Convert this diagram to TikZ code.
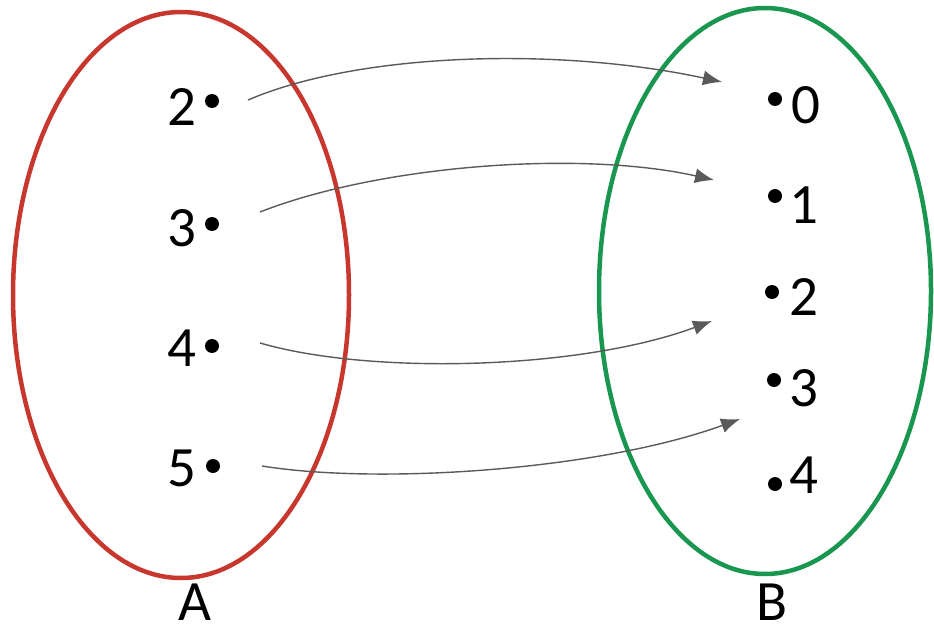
\documentclass[tikz,border=0pt]{standalone}
\usepackage{fontspec}
\setmainfont{Carlito}
\usetikzlibrary{arrows.meta}
\definecolor{setred}{RGB}{200,55,45}
\definecolor{setgreen}{RGB}{25,150,80}
\definecolor{arrowgray}{RGB}{90,90,90}
\tikzset{
  setoval/.style={line width=4.5pt},
  elem/.style={inner sep=0pt, font=\fontsize{57}{60}\selectfont},
  pt/.style={circle, fill=black, inner sep=0pt, minimum size=14pt},
  maparrow/.style={draw=arrowgray, line width=1.4pt, -{Latex[length=19pt,width=15pt]}}
}
\begin{document}
\begin{tikzpicture}[x=1pt,y=-1pt]
\useasboundingbox (0,0) rectangle (934,631);
% the two sets
\draw[setoval, setred] (181,295) ellipse [x radius=168, y radius=283];
\draw[setoval, setgreen] (765,291) ellipse [x radius=166, y radius=283];
\node[elem] (A) at (195,602) {A};
\node[elem] (B) at (772,602) {B};
% domain elements
\node[elem] (a2) at (182,107) {2};
\node[pt] (da2) at (212,101) {};
\node[elem] (a3) at (182,228) {3};
\node[pt] (da3) at (212,224) {};
\node[elem] (a4) at (182,348) {4};
\node[pt] (da4) at (212,346) {};
\node[elem] (a5) at (182,468) {5};
\node[pt] (da5) at (213,466) {};
% codomain elements
\node[pt] (db0) at (775,99) {};
\node[elem] (b0) at (806,105) {0};
\node[pt] (db1) at (775,196) {};
\node[elem] (b1) at (804,205) {1};
\node[pt] (db2) at (772,292) {};
\node[elem] (b2) at (804,297) {2};
\node[pt] (db3) at (774,380) {};
\node[elem] (b3) at (804,388) {3};
\node[pt] (db4) at (775,484) {};
\node[elem] (b4) at (804,475) {4};
% arrow end points
\coordinate (s2) at (248,100);
\coordinate (t0) at (722,82);
\coordinate (s3) at (260,212);
\coordinate (t1) at (714,180);
\coordinate (s4) at (260,343);
\coordinate (t2) at (712,321);
\coordinate (s5) at (262,466);
\coordinate (t3) at (740,419);
% the mapping
\draw[maparrow] (s2) .. controls (360,52) and (560,47) .. (t0);
\draw[maparrow] (s3) .. controls (380,165) and (580,150) .. (t1);
\draw[maparrow] (s4) .. controls (370,375) and (580,370) .. (t2);
\draw[maparrow] (s5) .. controls (380,485) and (600,470) .. (t3);
\end{tikzpicture}
\end{document}
